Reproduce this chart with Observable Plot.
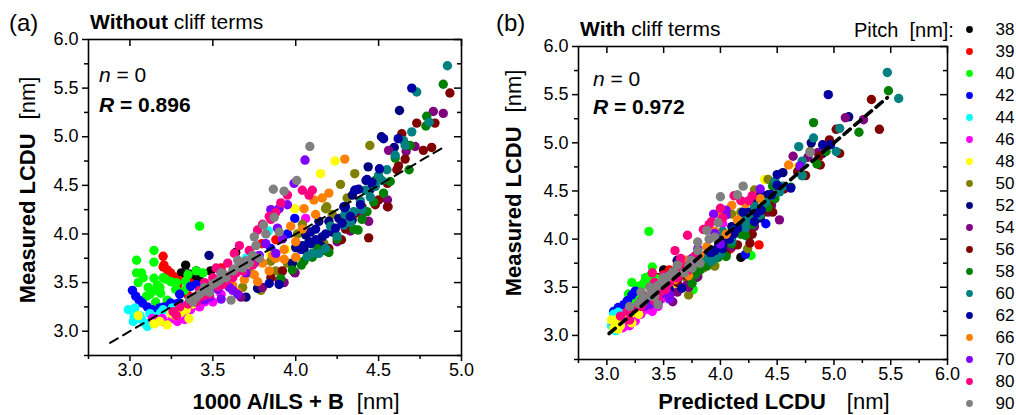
<!DOCTYPE html>
<html><head><meta charset="utf-8">
<script src="https://cdn.jsdelivr.net/npm/d3@7"></script>
<script src="https://cdn.jsdelivr.net/npm/@observablehq/plot@0.6"></script>
<style>
html,body{margin:0;padding:0;background:#fff;}
#wrap{position:relative;width:1016px;height:415px;overflow:hidden;font-family:"Liberation Sans",Arial,sans-serif;}
#wrap > svg{position:absolute;top:0;}
</style></head><body><div id="wrap"></div>
<script>
// Pitch categories and colours
const pitches = [38,39,40,42,44,46,48,50,52,54,56,58,60,62,66,70,80,90];
const colors = ["#000000","#ff0000","#00ff00","#0000ff","#00ffff","#ff00ff","#ffff00","#808000","#000080","#800080","#800000","#008000","#008080","#0000a0","#ff8000","#8000ff","#ff0080","#808080"];

// Each point: [x in panel (a): 1000 A/ILS + B, x in panel (b): predicted LCDU, measured LCDU]
const p38 = [[3.336,3.50,3.68],[3.356,3.55,3.59],[3.386,3.60,3.56],[3.415,3.52,3.55],[3.487,3.66,3.62],[3.31,3.45,3.60],[3.638,4.18,3.81],[3.40,3.52,3.62]];
const p39 = [[3.20,3.62,3.77],[3.205,3.55,3.68],[3.225,3.50,3.63],[3.245,3.48,3.60],[3.265,3.60,3.56],[3.286,3.62,3.46],[3.316,3.55,3.41],[3.35,3.42,3.37],[3.286,3.52,3.48],[3.20,3.58,3.66],[3.795,4.09,3.90],[3.88,4.34,3.94],[3.30,3.40,3.52],[3.36,3.45,3.50],[3.55,3.60,3.65],[3.70,3.72,3.70]];
const p40 = [[3.42,3.37,4.08],[3.145,4.27,3.83],[3.04,3.95,3.73],[3.145,3.40,3.71],[3.04,3.34,3.60],[3.07,3.79,3.60],[3.05,3.30,3.50],[3.145,3.36,3.545],[3.165,3.76,3.475],[3.215,3.32,3.535],[3.246,3.28,3.51],[3.10,3.18,3.36],[3.135,3.26,3.41],[3.185,3.20,3.39],[3.276,3.19,3.43],[3.155,3.22,3.30],[3.225,3.26,3.32],[3.35,3.44,3.58],[3.40,3.38,3.62],[3.44,3.42,3.60],[3.335,3.30,3.51],[3.33,3.24,3.42],[3.20,3.33,3.55],[3.11,3.28,3.45],[3.08,3.22,3.55],[3.18,3.30,3.45],[3.28,3.38,3.50],[3.12,3.24,3.38]];
const p42 = [[3.015,3.22,3.42],[3.035,3.18,3.36],[3.055,3.15,3.32],[3.075,3.10,3.29],[3.105,3.06,3.25],[3.135,3.12,3.22],[3.205,3.20,3.25],[3.245,3.26,3.29],[3.366,3.25,3.46],[3.296,3.35,3.29],[3.994,4.40,4.16],[4.03,4.22,3.84],[3.55,3.62,3.60],[3.95,4.05,4.00],[3.18,3.22,3.24],[3.28,3.28,3.28],[3.40,3.42,3.48],[3.30,3.32,3.38],[3.75,3.75,3.72],[3.85,3.92,3.85]];
const p44 = [[2.99,3.06,3.22],[3.03,3.10,3.24],[3.025,3.12,3.15],[3.06,3.06,3.16],[3.07,3.15,3.12],[3.09,3.10,3.08],[3.105,3.08,3.05],[3.145,3.18,3.15],[3.185,3.14,3.19],[3.256,3.20,3.24],[3.835,4.23,4.03],[3.62,3.72,3.62],[3.45,3.38,3.36],[3.02,3.04,3.10],[3.12,3.10,3.18],[3.20,3.16,3.22],[3.50,3.45,3.45],[3.70,3.72,3.75]];
const p46 = [[3.135,3.06,3.13],[3.165,3.12,3.12],[3.195,3.18,3.13],[3.255,3.22,3.13],[3.286,3.20,3.10],[3.326,3.25,3.15],[3.366,3.30,3.22],[3.396,3.36,3.27],[4.06,4.02,4.16],[3.50,3.45,3.30],[3.42,3.40,3.25],[3.30,3.14,3.17],[3.22,3.14,3.08],[3.33,3.20,3.12],[3.45,3.40,3.30],[3.55,3.48,3.38],[3.40,3.28,3.28]];
const p48 = [[3.145,3.06,3.075],[3.225,3.10,3.065],[3.306,3.20,3.19],[3.356,3.22,3.13],[3.34,3.28,3.22],[3.275,3.08,3.16],[4.237,4.68,4.75],[4.15,4.39,4.62],[3.994,4.37,4.26],[3.94,3.98,3.84],[3.05,3.04,3.16],[3.60,3.62,3.50],[3.18,3.12,3.10],[3.25,3.15,3.18],[3.38,3.28,3.28],[3.85,3.80,3.78]];
const p50 = [[4.447,4.79,4.91],[4.356,4.42,4.62],[4.27,4.30,4.51],[4.31,4.45,4.37],[4.187,4.18,4.28],[4.04,4.12,4.10],[4.01,3.98,4.00],[4.17,4.24,3.90],[3.79,3.72,3.42],[4.18,4.10,4.26],[3.72,3.70,3.60],[3.85,3.95,3.72],[3.60,3.55,3.55],[3.88,3.80,3.62],[3.95,3.85,3.70],[3.68,3.55,3.45],[4.22,4.20,4.20]];
const p52 = [[4.626,5.13,5.27],[4.517,4.80,5.00],[4.594,4.90,4.89],[4.437,4.55,4.69],[4.424,4.50,4.55],[4.36,4.40,4.45],[4.342,4.30,4.40],[4.29,4.25,4.28],[4.26,4.18,4.16],[4.14,4.10,4.13],[4.06,4.00,3.99],[4.05,3.95,3.84],[3.98,3.80,3.70],[3.77,3.55,3.44],[3.70,3.45,3.35],[3.477,3.62,3.78],[4.20,4.16,4.13],[4.00,3.90,3.86],[4.08,3.98,3.92],[4.16,4.05,3.97],[4.22,4.10,4.02],[4.34,4.28,4.14],[4.40,4.35,4.22],[4.45,4.42,4.46],[4.15,3.98,3.88]];
const p54 = [[4.83,5.10,5.26],[4.89,5.26,5.24],[4.72,4.86,4.90],[4.666,4.77,4.85],[4.56,4.64,4.86],[4.553,4.45,4.35],[4.553,4.42,4.28],[4.44,4.30,4.13],[4.33,4.25,4.03],[3.996,3.78,3.60],[3.99,3.80,3.61],[3.93,3.72,3.50],[3.67,3.58,3.35],[4.30,4.28,4.12],[4.40,4.52,4.20],[4.15,3.95,3.82],[4.25,4.10,3.92],[3.80,3.62,3.45],[3.90,3.70,3.52]];
const p56 = [[4.93,5.33,5.45],[4.73,5.02,5.14],[4.84,5.40,5.14],[4.64,4.96,5.03],[4.77,4.87,4.86],[4.82,5.05,4.89],[4.66,4.88,4.77],[4.61,4.75,4.66],[4.553,4.56,4.52],[4.50,4.43,4.35],[4.557,4.46,4.28],[4.44,4.26,3.96],[4.276,4.15,3.94],[4.35,4.20,4.20],[3.92,3.70,3.62],[3.85,3.62,3.55],[4.30,4.28,4.05],[4.40,4.38,4.28],[4.10,3.92,3.78],[4.20,4.05,3.85],[4.62,4.68,4.70],[4.48,4.40,4.30]];
const p58 = [[4.89,5.48,5.54],[4.79,4.82,5.21],[4.785,5.22,5.11],[4.69,4.93,4.91],[4.684,4.72,4.66],[4.60,4.85,4.78],[4.53,4.48,4.42],[4.57,4.62,4.54],[4.47,4.42,4.33],[4.43,4.31,4.23],[4.376,4.22,4.04],[4.19,4.05,3.82],[4.13,4.00,3.85],[4.034,3.82,3.68],[3.91,3.75,3.54],[4.10,3.90,3.76],[4.20,3.98,3.81],[4.48,4.46,4.55],[4.25,4.10,3.95],[4.35,4.18,4.05],[4.40,4.28,4.15],[4.05,3.88,3.72],[3.98,3.78,3.63]];
const p60 = [[4.915,5.47,5.73],[4.73,5.57,5.46],[4.805,5.05,5.15],[4.70,4.82,5.05],[4.65,4.69,4.96],[4.60,4.72,4.81],[4.55,4.72,4.66],[4.50,4.48,4.60],[4.48,4.52,4.49],[4.45,4.40,4.38],[4.39,4.30,4.34],[4.35,4.25,4.23],[4.30,4.20,4.21],[4.29,4.12,4.09],[4.296,4.25,4.20],[4.21,4.02,4.08],[4.07,3.92,3.77],[4.14,3.85,3.80],[4.66,5.02,4.91],[4.10,3.95,3.80],[4.18,4.00,3.85],[4.25,4.10,3.98],[4.33,4.22,4.12],[4.40,4.35,4.25],[4.52,4.55,4.55],[4.42,4.45,4.45]];
const p62 = [[4.70,4.95,5.50],[4.53,4.97,4.98],[4.618,4.90,4.98],[4.505,4.50,4.67],[4.46,4.62,4.53],[4.38,4.45,4.46],[4.39,4.36,4.30],[4.28,4.15,4.11],[4.30,4.20,4.28],[4.09,4.05,4.02],[4.03,3.92,3.86],[4.09,4.02,3.90],[3.84,3.66,3.49],[4.296,4.32,4.27],[4.356,4.35,4.45],[4.12,4.08,4.05],[3.90,3.55,3.48],[4.04,3.95,3.88],[4.12,4.00,3.94],[4.18,4.08,4.00],[4.24,4.12,4.06],[4.33,4.30,4.18],[4.43,4.50,4.56]];
const p66 = [[4.296,4.60,4.77],[4.20,4.35,4.42],[4.16,4.22,4.37],[4.11,4.10,4.35],[4.05,4.00,4.26],[3.97,3.95,4.08],[4.0,3.88,3.92],[3.93,3.82,3.84],[3.86,3.70,3.78],[3.93,3.64,3.74],[4.0,3.80,3.76],[3.69,3.50,3.53],[3.77,3.52,3.51],[4.04,4.05,4.05],[3.65,3.40,3.40],[3.80,3.68,3.70],[3.88,3.75,3.75],[3.75,3.60,3.58],[3.84,3.72,3.62],[3.62,3.50,3.47],[4.12,4.15,4.20]];
const p70 = [[4.056,4.70,4.76],[3.99,4.35,4.52],[3.90,3.94,4.26],[3.85,4.05,4.25],[3.89,3.95,4.06],[3.53,3.48,3.43],[3.88,3.75,3.80],[3.70,3.62,3.60],[3.60,3.52,3.45],[3.55,3.45,3.33],[3.45,3.38,3.32],[3.75,3.70,3.70],[3.92,4.00,3.95],[3.65,3.55,3.38],[3.82,3.80,3.90],[3.95,4.05,4.30],[3.78,3.76,3.78],[3.62,3.55,3.42],[3.48,3.40,3.35],[3.40,3.33,3.30]];
const p80 = [[3.95,4.18,4.40],[4.04,4.12,4.45],[3.91,4.00,4.32],[3.84,3.92,4.18],[3.77,3.71,4.04],[3.66,3.60,3.88],[4.08,4.25,4.40],[3.59,3.62,3.70],[3.80,3.85,4.10],[3.55,3.50,3.62],[3.50,3.42,3.55],[3.45,3.38,3.50],[3.42,3.32,3.42],[3.38,3.30,3.35],[3.48,3.45,3.38],[3.56,3.52,3.48],[3.62,3.55,3.55],[3.70,3.70,3.72],[3.30,3.18,3.25],[3.26,3.12,3.20],[3.35,3.22,3.28],[3.72,3.78,3.83],[3.52,3.40,3.65],[3.63,3.65,3.80],[3.40,3.30,3.30],[3.46,3.40,3.42],[3.53,3.48,3.46],[3.58,3.50,3.52],[3.64,3.62,3.60],[3.68,3.62,3.62],[3.74,3.72,3.68],[3.36,3.28,3.32],[3.44,3.42,3.36],[3.85,3.90,4.15],[3.88,4.02,4.22],[4.10,4.28,4.45],[3.28,3.20,3.16]];
const p90 = [[4.085,4.79,4.90],[3.865,4.15,4.46],[3.93,4.00,4.44],[4.006,4.20,4.55],[3.87,3.98,4.17],[3.805,3.88,4.09],[3.75,3.80,3.97],[3.65,3.62,3.73],[3.55,3.50,3.60],[3.44,3.40,3.41],[3.40,3.32,3.35],[3.61,3.45,3.32],[3.50,3.42,3.48],[3.58,3.48,3.55],[3.62,3.55,3.62],[3.68,3.68,3.65],[3.72,3.75,3.70],[3.45,3.30,3.45],[3.38,3.20,3.30],[3.52,3.38,3.50],[3.78,3.82,3.75],[3.66,3.58,3.66],[3.46,3.38,3.42],[3.48,3.42,3.40],[3.54,3.45,3.52],[3.57,3.52,3.58],[3.63,3.60,3.64],[3.70,3.72,3.72],[3.74,3.74,3.78],[3.76,3.80,3.88],[3.82,3.90,4.00],[3.42,3.32,3.38],[3.36,3.28,3.33],[3.90,3.95,4.02]];
const pitchData = [p38,p39,p40,p42,p44,p46,p48,p50,p52,p54,p56,p58,p60,p62,p66,p70,p80,p90];

// Fit lines (y = x) extents
const fitA = [2.88, 4.89];
const fitB = [3.02, 5.47];

// Ticks
const xMajorA = [3.0,3.5,4.0,4.5,5.0];
const xMinorA = [2.75,3.25,3.75,4.25,4.75];
const xMajorB = [3.0,3.5,4.0,4.5,5.0,5.5,6.0];
const xMinorB = [2.75,3.25,3.75,4.25,4.75,5.25,5.75];
const yMajor = [3.0,3.5,4.0,4.5,5.0,5.5,6.0];
const yMinor = [2.75,3.25,3.75,4.25,4.75,5.25,5.75];

// Texts
const statsA = {n: "0", R: "0.896"};
const statsB = {n: "0", R: "0.972"};

const rows = [];
pitchData.forEach((arr, i) => arr.forEach(([xa, xb, y]) => rows.push({pitch: pitches[i], xa, xb, y})));

const FONT = "'Liberation Sans', Arial, sans-serif";
const fmt = d3.format(".1f");
const colorScale = {domain: pitches, range: colors, type: "ordinal"};

function panel({xKey, xDomain, xMajor, xMinor, fit, fitWidth, dash, width, ml, mr, mt, mb, left}) {
  const fw = width - ml - mr;
  const fh = 415 - mt - mb;
  const p = Plot.plot({
    width, height: 415, marginLeft: ml, marginRight: mr, marginTop: mt, marginBottom: mb,
    x: {domain: xDomain, axis: null},
    y: {domain: [2.75, 6.0], axis: null},
    color: colorScale,
    style: {background: "transparent", fontFamily: FONT, fontSize: "18px", color: "black", overflow: "visible"},
    marks: [
      Plot.dot(rows, {x: xKey, y: "y", fill: "pitch", r: 4.7}),
      Plot.line(fit.map(v => ({x: v, y: v})), {x: "x", y: "y", stroke: "black", strokeWidth: fitWidth, strokeDasharray: dash}),
      Plot.frame({stroke: "black", strokeWidth: 1.6}),
      Plot.axisX(xMajor, {anchor: "bottom", tickSize: 6, tickPadding: 2, tickFormat: fmt, label: null, strokeWidth: 1.5, fontSize: 18}),
      Plot.axisX(xMinor, {anchor: "bottom", tickSize: 4, tickFormat: () => "", label: null, strokeWidth: 1.5}),
      Plot.axisY(yMajor, {anchor: "left", tickSize: 6, tickPadding: 4, tickFormat: fmt, label: null, strokeWidth: 1.5, fontSize: 18}),
      Plot.axisY(yMinor, {anchor: "left", tickSize: 4, tickFormat: () => "", label: null, strokeWidth: 1.5}),
      Plot.tickX(xMajor, {x: d => d, insetBottom: fh - 7, stroke: "black", strokeWidth: 1.5}),
      Plot.tickY(yMajor, {y: d => d, insetLeft: fw - 7, stroke: "black", strokeWidth: 1.5}),
      Plot.tickY(yMinor, {y: d => d, insetLeft: fw - 4, stroke: "black", strokeWidth: 1.5})
    ]
  });
  p.style.left = left + "px";
  return p;
}

const wrap = document.getElementById("wrap");
wrap.appendChild(panel({xKey: "xa", xDomain: [2.75, 5.0], xMajor: xMajorA, xMinor: xMinorA, fit: fitA, fitWidth: 2, dash: "9,6", width: 500, ml: 88, mr: 39, mt: 39, mb: 60, left: 0}));
wrap.appendChild(panel({xKey: "xb", xDomain: [2.75, 6.0], xMajor: xMajorB, xMinor: xMinorB, fit: fitB, fitWidth: 3.6, dash: "8,6", width: 516, ml: 78, mr: 69, mt: 46, mb: 56, left: 500}));

// Legend
const legend = Plot.plot({
  width: 61, height: 415, marginLeft: 0, marginRight: 0, marginTop: 29, marginBottom: 12,
  x: {axis: null},
  y: {type: "point", domain: pitches, padding: 0, axis: null},
  color: colorScale,
  style: {background: "transparent", fontFamily: FONT, fontSize: "17px", color: "black", overflow: "visible"},
  marks: [
    Plot.dot(pitches, {y: d => d, fill: d => d, r: 3.4, frameAnchor: "left", dx: 14}),
    Plot.text(pitches, {y: d => d, text: d => String(d), frameAnchor: "left", dx: 40, textAnchor: "start", fill: "black", fontSize: 17})
  ]
});
legend.style.left = "955px";
wrap.appendChild(legend);

// Overlay text
const svg = d3.select(wrap).append("svg").attr("width", 1016).attr("height", 415)
  .style("left", "0px").style("pointer-events", "none").style("font-family", FONT).attr("fill", "black");
function rich(x, y, size, parts, anchor = "start", rotate = false) {
  const t = svg.append("text").attr("x", x).attr("y", y).attr("font-size", size).attr("text-anchor", anchor);
  if (rotate) t.attr("transform", `rotate(-90 ${x} ${y})`);
  parts.forEach(p => {
    const s = t.append("tspan").text(p.t);
    if (p.b) s.attr("font-weight", "bold");
    if (p.i) s.attr("font-style", "italic");
    if (p.dx) s.attr("dx", p.dx);
  });
}
rich(9, 31, 24, [{t: "(a)"}]);
rich(90, 29, 21, [{t: "Without", b: true}, {t: " cliff terms"}]);
rich(99, 82, 21, [{t: "n", i: true}, {t: " = " + statsA.n}]);
rich(99, 112, 21, [{t: "R", i: true, b: true}, {t: " = " + statsA.R, b: true}]);
rich(35, 190, 22, [{t: "Measured LCDU", b: true}, {t: "[nm]", dx: 14}], "middle", true);
rich(296, 409, 22, [{t: "1000 A/ILS + B", b: true}, {t: "[nm]", dx: 13}], "middle");

rich(496, 31, 24, [{t: "(b)"}]);
rich(580, 36, 21, [{t: "With", b: true}, {t: " cliff terms"}]);
rich(854, 37, 20, [{t: "Pitch"}, {t: "[nm]:", dx: 11}]);
rich(593, 86, 21, [{t: "n", i: true}, {t: " = " + statsB.n}]);
rich(593, 114, 21, [{t: "R", i: true, b: true}, {t: " = " + statsB.R, b: true}]);
rich(521, 183, 22, [{t: "Measured LCDU", b: true}, {t: "[nm]", dx: 14}], "middle", true);
rich(774, 409, 22, [{t: "Predicted LCDU", b: true}, {t: "[nm]", dx: 21}], "middle");
</script></body></html>
